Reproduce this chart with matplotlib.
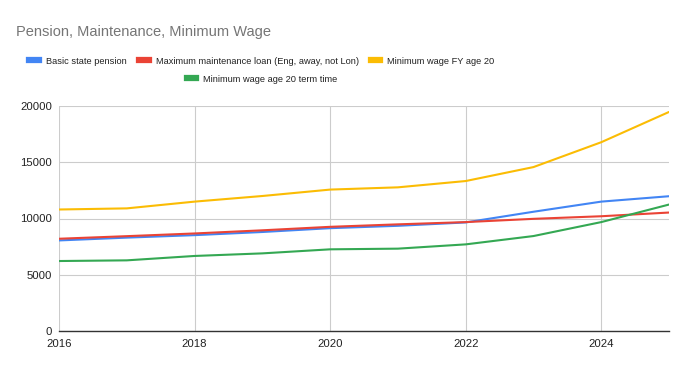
import matplotlib
matplotlib.use("Agg")
import matplotlib.pyplot as plt
from matplotlib.lines import Line2D

# data
years = [2016, 2017, 2018, 2019, 2020, 2021, 2022, 2023, 2024, 2025]
pension = [8050, 8300, 8520, 8800, 9140, 9350, 9650, 10600, 11500, 11980]
maint_loan = [8200, 8430, 8670, 8950, 9260, 9480, 9680, 9970, 10200, 10530]
min_wage_fy = [10800, 10900, 11500, 12000, 12570, 12770, 13330, 14570, 16780, 19470]
min_wage_term = [6220, 6280, 6670, 6900, 7260, 7320, 7700, 8440, 9680, 11240]

labels = ["Basic state pension", "Maximum maintenance loan (Eng, away, not Lon)",
          "Minimum wage FY age 20", "Minimum wage age 20 term time"]
colors = ["#4285F4", "#EA4335", "#FBBC04", "#34A853"]

plt.rcParams['font.family'] = ['Liberation Sans', 'DejaVu Sans']

fig = plt.figure(figsize=(6.88, 3.71), dpi=100)
ax = fig.add_axes([59/688, 40/371, 610/688, 225/371])

series = [pension, maint_loan, min_wage_fy, min_wage_term]
for vals, c in zip(series, colors):
    ax.plot(years, vals, color=c, linewidth=1.5, solid_capstyle='round')

ax.set_xlim(2016, 2025)
ax.set_ylim(0, 20000)
ax.set_xticks([2016, 2018, 2020, 2022, 2024])
ax.set_yticks([0, 5000, 10000, 15000, 20000])
ax.grid(True, color='#cccccc', linewidth=0.8)
ax.set_axisbelow(True)
for s in ['top', 'right', 'left']:
    ax.spines[s].set_visible(False)
ax.spines['bottom'].set_color('#333333')
ax.spines['bottom'].set_linewidth(1.0)
ax.tick_params(length=0, labelsize=8.2, colors='#222222', pad=5)
ax.tick_params(axis='x', pad=6)

fig.text(16/688, 1 - 32/371, "Pension, Maintenance, Minimum Wage",
         fontsize=10.5, color='#757575', va='center', ha='left')

handles = [Line2D([], [], color=c, linewidth=4.5) for c in colors]
kw = dict(frameon=False, fontsize=6.7, handlelength=1.05, handletextpad=0.75,
          columnspacing=1.3, labelcolor='#222222')
fig.legend(handles[:3], labels[:3], loc='center', ncol=3,
           bbox_to_anchor=(262/688, 1 - 61/371), **kw)
fig.legend(handles[3:], labels[3:], loc='center', ncol=1,
           bbox_to_anchor=(262/688, 1 - 79/371), **kw)

fig.savefig("out.png", dpi=100)
